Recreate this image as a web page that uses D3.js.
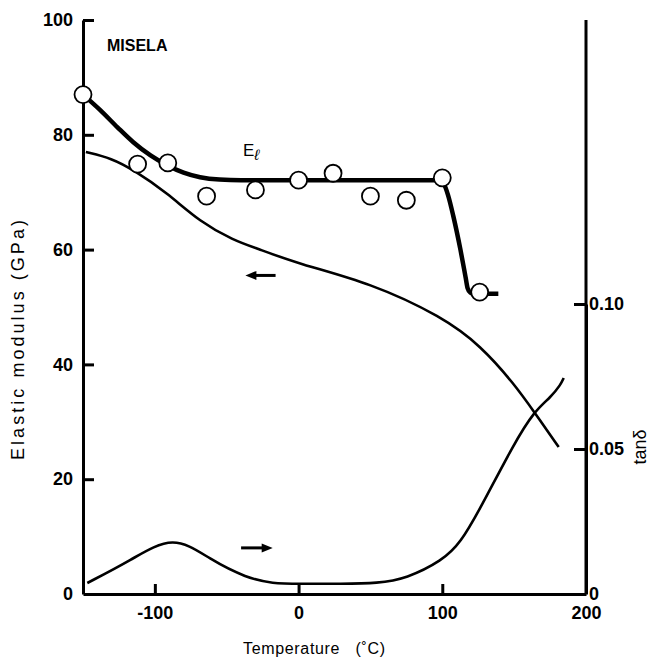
<!DOCTYPE html>
<html>
<head>
<meta charset="utf-8">
<script src="https://cdn.jsdelivr.net/npm/d3@7"></script>
<style>
  body { margin: 0; background: #fff; }
  svg { display: block; }
  .tick text { font-family: "Liberation Sans", Arial, sans-serif; font-weight: bold; font-size: 18px; fill: #000; }
  .tick line { stroke: #000; stroke-width: 3px; }
  .domain { stroke: #000; stroke-width: 3px; }
</style>
</head>
<body>
<svg id="chart" width="652" height="661"></svg>
<script>
// --- data ---
// measured points of E_l (circles)
const pointTemps = [-150, -112, -91, -64, -30, 0, 24, 50, 75, 100, 126];
const pointModulus = [87, 74.9, 75.1, 69.3, 70.4, 72.1, 73.3, 69.3, 68.6, 72.5, 52.6];

// thick E_l guide curve
const elTemps = [-150, -138, -126, -115, -103, -91.5, -80, -68.5, -55, -40, 0, 98, 101, 104, 107.8, 112.7, 116.2, 117.6, 119.5, 122, 139];
const elModulus = [87, 84.3, 81.3, 78.7, 76.4, 74.7, 73.4, 72.6, 72.2, 72.1, 72.1, 72.1, 71.5, 69.5, 65.7, 59.9, 55.2, 53.3, 52.5, 52.3, 52.3];

// thin dynamic modulus curve (left axis)
const modTemps = [-148, -130, -115, -91.5, -68.5, -45, -30, 0, 50, 100, 127, 150, 164, 181];
const modValues = [77, 75.9, 73.9, 69.9, 64.8, 61.6, 60.3, 57.5, 54.2, 48.3, 43.2, 36.6, 31.7, 25.6];

// tan delta curve (right axis)
const tanTemps = [-147, -117, -87, -61.5, -36, -18, 0, 30, 55, 75, 100, 112.7, 126.7, 150, 164.3, 175.4, 182.4, 184.5];
const tanValues = [0.0038, 0.0115, 0.0208, 0.0118, 0.0055, 0.0036, 0.0035, 0.0035, 0.0037, 0.0053, 0.0115, 0.0176, 0.0297, 0.052, 0.0632, 0.0678, 0.0722, 0.0745];

const xTicks = [-100, 0, 100, 200];
const yTicks = [0, 20, 40, 60, 80, 100];
const tanTicks = [0, 0.05, 0.10];

// --- scales ---
const svg = d3.select("#chart");
const x = d3.scaleLinear().domain([-150, 200]).range([83, 586]);
const y = d3.scaleLinear().domain([0, 100]).range([594, 20]);
const yTan = d3.scaleLinear().domain([0, 0.10]).range([594, 304]);

// --- axes ---
svg.append("g")
  .attr("transform", `translate(0,${y(0)})`)
  .call(d3.axisBottom(x).tickValues(xTicks).tickSize(-10).tickSizeOuter(0).tickPadding(10).tickFormat(d => String(d)))
  .call(g => g.selectAll(".tick text").attr("dy", "0.85em"));

svg.append("g")
  .attr("transform", `translate(${x(-150)},0)`)
  .call(d3.axisLeft(y).tickValues(yTicks).tickSize(-11).tickSizeOuter(0).tickPadding(10))
  .call(g => g.selectAll(".tick").filter(d => d === 0).select("line").remove());

svg.append("g")
  .attr("transform", `translate(${x(200)},0)`)
  .call(d3.axisRight(yTan).tickValues(tanTicks).tickSize(-12).tickSizeOuter(0).tickPadding(3)
    .tickFormat(d => d === 0 ? "0" : d3.format(".2f")(d)))
  .call(g => g.selectAll(".tick").filter(d => d === 0).select("line").remove());

// right axis line runs to the top of the frame
svg.append("line")
  .attr("x1", x(200)).attr("x2", x(200))
  .attr("y1", y(100)).attr("y2", y(0))
  .attr("stroke", "#000").attr("stroke-width", 3);

// --- curves ---
const modLine = d3.line().x(d => x(d[0])).y(d => y(d[1])).curve(d3.curveBasis);
const tanLine = d3.line().x(d => x(d[0])).y(d => yTan(d[1])).curve(d3.curveBasis);
const elLine = d3.line().x(d => x(d[0])).y(d => y(d[1])).curve(d3.curveMonotoneX);

svg.append("path")
  .attr("d", modLine(d3.zip(modTemps, modValues)))
  .attr("fill", "none").attr("stroke", "#000").attr("stroke-width", 2.6);

svg.append("path")
  .attr("d", tanLine(d3.zip(tanTemps, tanValues)))
  .attr("fill", "none").attr("stroke", "#000").attr("stroke-width", 2.6);

svg.append("path")
  .attr("d", elLine(d3.zip(elTemps, elModulus)))
  .attr("fill", "none").attr("stroke", "#000").attr("stroke-width", 4.5);

svg.selectAll("circle.pt")
  .data(d3.zip(pointTemps, pointModulus))
  .join("circle")
  .attr("class", "pt")
  .attr("cx", d => x(d[0]))
  .attr("cy", d => y(d[1]))
  .attr("r", 8.5)
  .attr("fill", "#fff")
  .attr("stroke", "#000")
  .attr("stroke-width", 1.8);

// --- arrows ---
function arrow(x1, x2, yy) {
  const dir = Math.sign(x2 - x1);
  svg.append("line")
    .attr("x1", x1).attr("x2", x2 - dir * 8)
    .attr("y1", yy).attr("y2", yy)
    .attr("stroke", "#000").attr("stroke-width", 3);
  svg.append("path")
    .attr("d", `M${x2},${yy} L${x2 - dir * 11},${yy - 4.5} L${x2 - dir * 11},${yy + 4.5} Z`)
    .attr("fill", "#000");
}
arrow(x(-16), x(-37), y(55.5));
arrow(x(-40), x(-18), yTan(0.0159));

// --- labels ---
const font = '"Liberation Sans", Arial, sans-serif';

svg.append("text")
  .attr("x", 107).attr("y", 51)
  .style("font-family", font).style("font-weight", "bold").style("font-size", "16px")
  .text("MISELA");

const el = svg.append("text")
  .attr("x", 243).attr("y", 156)
  .style("font-family", font).style("font-size", "17px");
el.append("tspan").text("E");
el.append("tspan").attr("dy", 4).style("font-size", "15px").style("font-style", "italic").text("ℓ");

svg.append("text")
  .attr("transform", `translate(24,340) rotate(-90)`)
  .attr("text-anchor", "middle")
  .attr("textLength", 240).attr("lengthAdjust", "spacing")
  .style("font-family", font).style("font-size", "18px")
  .text("Elastic modulus  (GPa)");

svg.append("text")
  .attr("x", 314).attr("y", 654)
  .attr("text-anchor", "middle")
  .attr("textLength", 142).attr("lengthAdjust", "spacing")
  .attr("xml:space", "preserve")
  .style("font-family", font).style("font-size", "16px")
  .text("Temperature   (˚C)");

svg.append("text")
  .attr("transform", `translate(646,447) rotate(-90)`)
  .attr("text-anchor", "middle")
  .style("font-family", font).style("font-size", "18px")
  .text("tanδ");
</script>
</body>
</html>
